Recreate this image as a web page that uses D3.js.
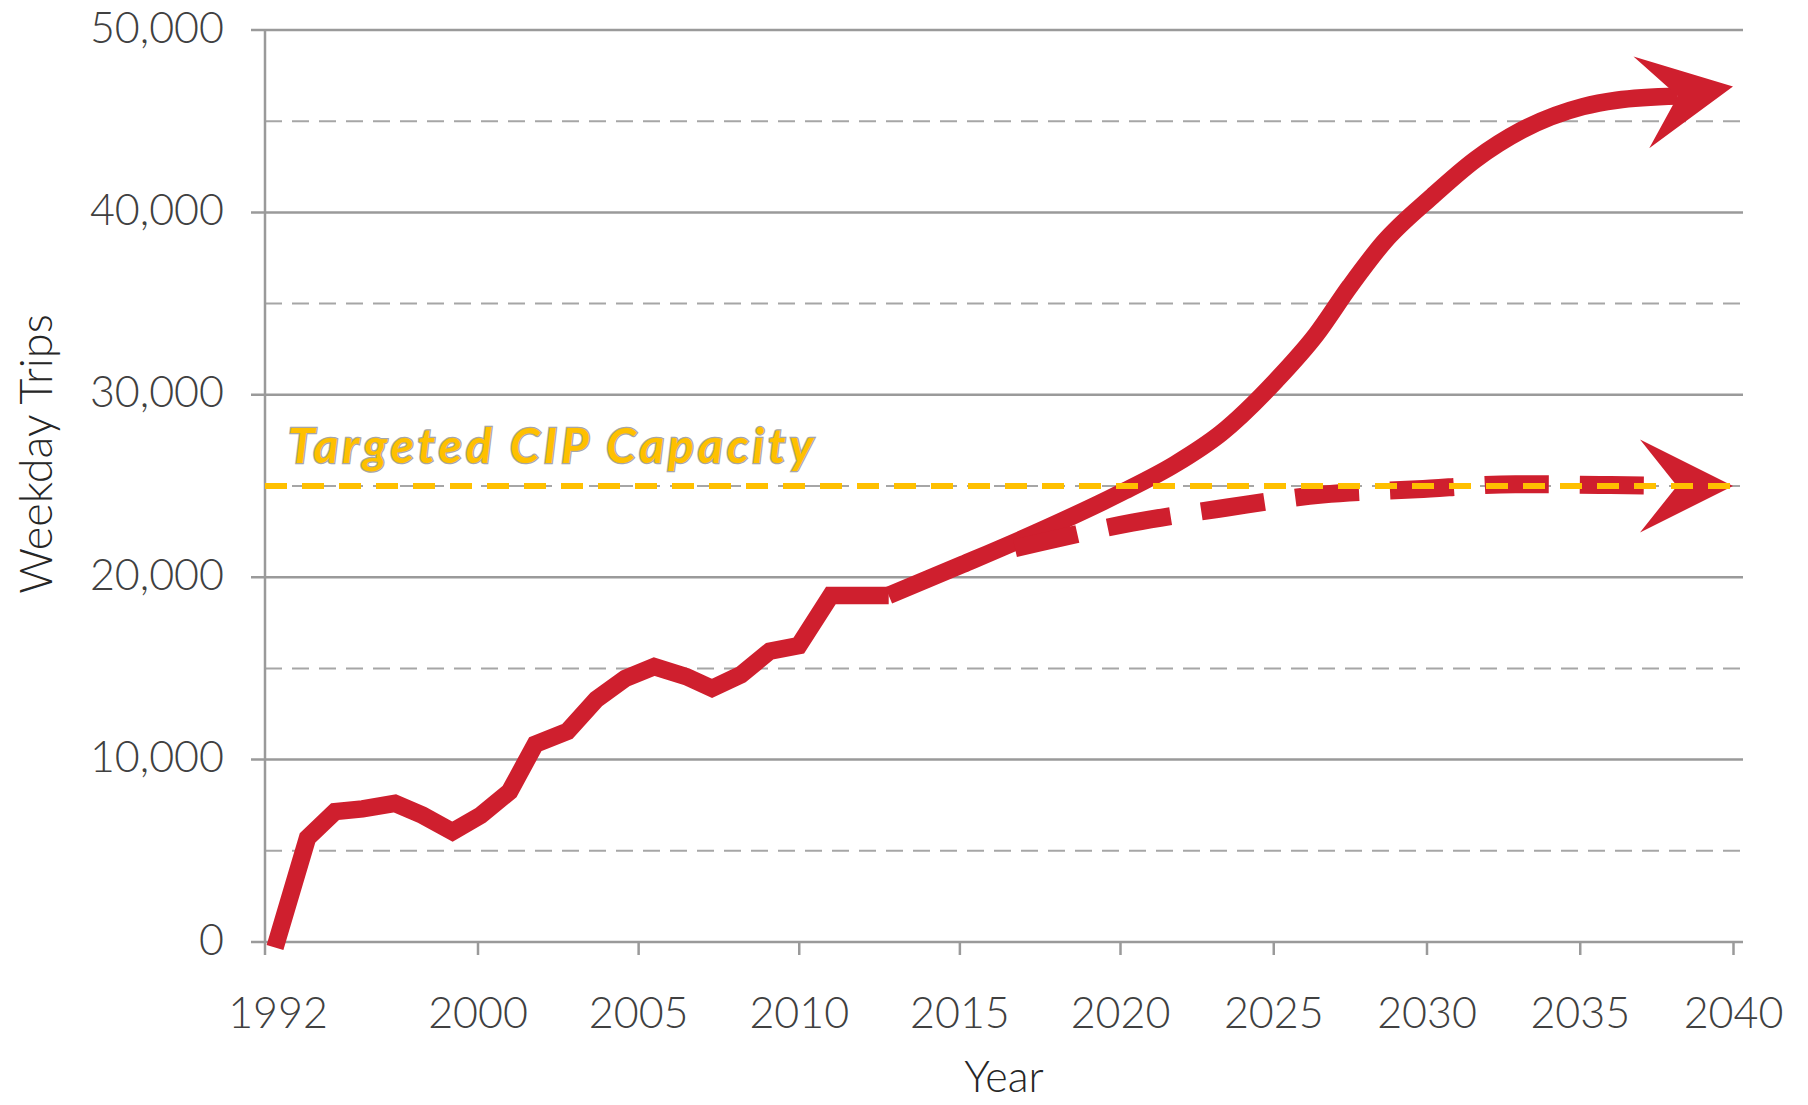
<!DOCTYPE html>
<html>
<head>
<meta charset="utf-8">
<script src="https://cdn.jsdelivr.net/npm/d3@7"></script>
<style>
    body { margin: 0; background: #fff; }
    svg { display: block; }
</style>
</head>
<body>
<svg id="chart" width="1808" height="1105"></svg>
<script>
const histYears = [1991.9, 1993.2, 1994.3, 1995.4, 1996.7, 1997.8, 1999.0, 2000.1, 2001.0, 2001.8, 2002.8, 2003.7, 2004.6, 2005.5, 2006.5, 2007.3, 2008.2, 2009.1, 2010.0, 2011.0, 2011.9, 2012.8]
const histTrips = [-300, 5700, 7150, 7300, 7600, 6950, 6050, 6950, 8250, 10850, 11550, 13300, 14450, 15100, 14550, 13900, 14650, 15950, 16250, 19000, 19000, 19000]

// unconstrained growth, last entry is the arrow tip
const highYears = [2012.8, 2015.1, 2017.4, 2020.0, 2021.8, 2023.3, 2025.1, 2026.4, 2027.5, 2028.6, 2030.2, 2031.6, 2033.1, 2035.1, 2036.2, 2038.2, 2040.0]
const highTrips = [19000, 20700, 22450, 24600, 26200, 27900, 30800, 33300, 35950, 38350, 40900, 42900, 44500, 45800, 46150, 46380, 46900]

// growth held at capacity, last entry is the arrow tip
const lowYears = [2016.5, 2017.5, 2020.4, 2023.5, 2026.6, 2029.7, 2032.9, 2036.0, 2038.1, 2040.0]
const lowTrips = [21500, 21900, 22990, 23820, 24530, 24820, 25100, 25050, 25000, 25000]

const xTicks = [1992, 2000, 2005, 2010, 2015, 2020, 2025, 2030, 2035, 2040]
const yTicks = [0, 10000, 20000, 30000, 40000, 50000]
const yMinorTicks = [5000, 15000, 25000, 35000, 45000]

const targetTrips = 25000
const targetLabel = "Targeted CIP Capacity"

const red = "#cf1f2e"
const gold = "#ffc000"
const gridGrey = "#9a9a9a"
const font = "Lato, 'Open Sans', sans-serif"

const zip = (years, trips) => years.map((year, i) => ({ year, trips: trips[i] }))
const history = zip(histYears, histTrips)
const high = zip(highYears, highTrips)
const low = zip(lowYears, lowTrips)

const margin = { top: 30, right: 65, bottom: 163, left: 265 }
const width = 1808 - margin.left - margin.right
const height = 1105 - margin.top - margin.bottom

// the drawn axis is not evenly spaced, so the scale bends at a few years
const x = d3.scaleLinear()
    .domain([1991.5, 2000, 2020, 2040])
    .range([0, 212.5, 855, 1468])
const y = d3.scaleLinear().domain([0, 50000]).range([height, 0])

const svg = d3.select("#chart")
const g = svg.append("g").attr("transform", `translate(${margin.left},${margin.top})`)

// minor grid
g.append("g")
    .selectAll("line")
    .data(yMinorTicks)
    .join("line")
    .attr("x1", 0)
    .attr("x2", width)
    .attr("y1", d => y(d))
    .attr("y2", d => y(d))
    .attr("stroke", "#a6a6a6")
    .attr("stroke-width", 2)
    .attr("stroke-dasharray", "17 10")

// major grid
g.append("g")
    .selectAll("line")
    .data(yTicks)
    .join("line")
    .attr("x1", -14)
    .attr("x2", width)
    .attr("y1", d => y(d))
    .attr("y2", d => y(d))
    .attr("stroke", gridGrey)
    .attr("stroke-width", 2.5)

// y axis line
g.append("line")
    .attr("x1", 0)
    .attr("x2", 0)
    .attr("y1", y(50000))
    .attr("y2", height + 13)
    .attr("stroke", gridGrey)
    .attr("stroke-width", 2.5)

const yAxis = g.append("g")
    .call(d3.axisLeft(y).tickValues(yTicks).tickFormat(d3.format(",")).tickSize(0).tickPadding(41))
yAxis.select(".domain").remove()
yAxis.selectAll("text")
    .attr("dy", "0.28em")
    .attr("font-family", font)
    .attr("font-weight", 300)
    .attr("font-size", 43)
    .attr("fill", "#404040")

const xAxis = g.append("g")
    .attr("transform", `translate(0,${height})`)
    .call(d3.axisBottom(x).tickValues(xTicks).tickFormat(d3.format("d")).tickSize(13).tickPadding(42))
xAxis.select(".domain").remove()
xAxis.selectAll(".tick line")
    .attr("stroke", gridGrey)
    .attr("stroke-width", 2.5)
    .filter(d => d === xTicks[0])
    .remove()
xAxis.selectAll("text")
    .attr("font-family", font)
    .attr("font-weight", 300)
    .attr("font-size", 43)
    .attr("fill", "#404040")

// axis titles
svg.append("text")
    .attr("x", margin.left + width / 2)
    .attr("y", 1092)
    .attr("text-anchor", "middle")
    .attr("font-family", font)
    .attr("font-weight", 300)
    .attr("font-size", 43)
    .attr("fill", "#262626")
    .text("Year")

svg.append("text")
    .attr("transform", "translate(52,454) rotate(-90)")
    .attr("text-anchor", "middle")
    .attr("font-family", font)
    .attr("font-weight", 300)
    .attr("font-size", 45)
    .attr("fill", "#262626")
    .text("Weekday Trips")

const line = d3.line().x(d => x(d.year)).y(d => y(d.trips))

function arrowHead(series) {
    const n = series.length
    const x0 = x(series[n - 2].year), y0 = y(series[n - 2].trips)
    const x1 = x(series[n - 1].year), y1 = y(series[n - 1].trips)
    const len = Math.hypot(x1 - x0, y1 - y0)
    const ux = (x1 - x0) / len, uy = (y1 - y0) / len
    const pt = (back, side) => [x1 - back * ux - side * uy, y1 - back * uy + side * ux]
    return d3.line()([[x1, y1], pt(93, 46.5), pt(56, 0), pt(93, -46.5)]) + "Z"
}

const lines = g.append("g")
    .attr("fill", "none")
    .attr("stroke", red)
    .attr("stroke-width", 17.5)
    .attr("stroke-linejoin", "miter")
    .attr("stroke-miterlimit", 10)

lines.append("path").attr("d", line(history))

lines.append("path")
    .attr("d", line.curve(d3.curveMonotoneX)(high.slice(0, -1)))

const lowPath = lines.append("path")
    .attr("d", line.curve(d3.curveMonotoneX)(low.slice(0, -1)))
    .attr("stroke-width", 18)

// finish the dash pattern with a gap right at the arrow notch
const dashPeriod = 95
const lowLength = lowPath.node().getTotalLength()
lowPath
    .attr("stroke-dasharray", "64 31")
    .attr("stroke-dashoffset", (dashPeriod - (lowLength % dashPeriod)) % dashPeriod)

g.append("g")
    .selectAll("path")
    .data([high, low])
    .join("path")
    .attr("d", arrowHead)
    .attr("fill", red)

// capacity target
g.append("line")
    .attr("x1", 0)
    .attr("x2", width)
    .attr("y1", y(targetTrips))
    .attr("y2", y(targetTrips))
    .attr("stroke", gold)
    .attr("stroke-width", 6)
    .attr("stroke-dasharray", "22 15")

g.append("text")
    .attr("x", 23)
    .attr("y", y(targetTrips) - 23)
    .attr("font-family", font)
    .attr("font-size", 48)
    .attr("font-weight", "bold")
    .attr("font-style", "italic")
    .attr("fill", gold)
    .attr("stroke", "#a6a6a6")
    .attr("stroke-width", 2.5)
    .attr("paint-order", "stroke")
    .attr("textLength", 525)
    .text(targetLabel)
</script>
</body>
</html>
